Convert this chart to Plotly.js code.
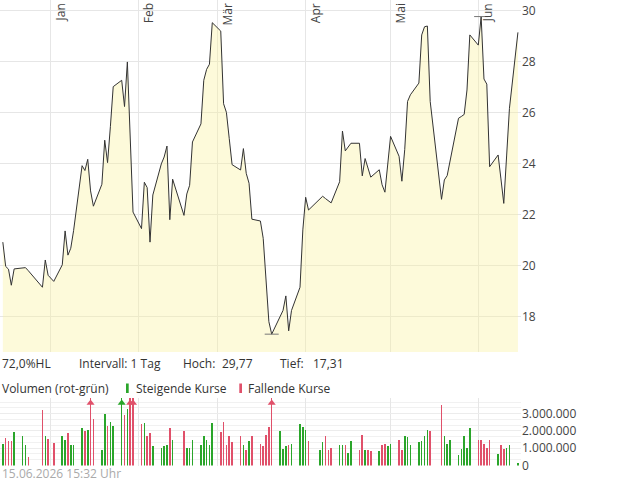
<!DOCTYPE html>
<html><head><meta charset="utf-8">
<script src="https://cdn.plot.ly/plotly-3.0.1.min.js"></script>
<style>html,body{margin:0;padding:0;background:#fff}#chart{width:620px;height:483px}</style>
</head><body><div id="chart"></div>
<script>
// ---- data ----
const tradingDays = [
'2025-12-15','2025-12-16','2025-12-17','2025-12-18','2025-12-19','2025-12-22','2025-12-23','2025-12-24','2025-12-29','2025-12-30','2025-12-31',
'2026-01-02','2026-01-05','2026-01-06','2026-01-07','2026-01-08','2026-01-09','2026-01-12','2026-01-13','2026-01-14','2026-01-15','2026-01-16',
'2026-01-19','2026-01-20','2026-01-21','2026-01-22','2026-01-23','2026-01-26','2026-01-27','2026-01-28','2026-01-29','2026-01-30',
'2026-02-02','2026-02-03','2026-02-04','2026-02-05','2026-02-06','2026-02-09','2026-02-10','2026-02-11','2026-02-12','2026-02-13',
'2026-02-17','2026-02-18','2026-02-19','2026-02-20','2026-02-23','2026-02-24','2026-02-25','2026-02-26','2026-02-27',
'2026-03-02','2026-03-03','2026-03-04','2026-03-05','2026-03-06','2026-03-09','2026-03-10','2026-03-11','2026-03-12','2026-03-13',
'2026-03-16','2026-03-17','2026-03-18','2026-03-19','2026-03-20','2026-03-23','2026-03-24','2026-03-25','2026-03-26','2026-03-27',
'2026-03-30','2026-03-31','2026-04-01','2026-04-02','2026-04-06','2026-04-07','2026-04-08','2026-04-09','2026-04-10',
'2026-04-13','2026-04-14','2026-04-15','2026-04-16','2026-04-17','2026-04-20','2026-04-21','2026-04-22','2026-04-23','2026-04-24',
'2026-04-27','2026-04-28','2026-04-29','2026-04-30','2026-05-01','2026-05-04','2026-05-05','2026-05-06','2026-05-07','2026-05-08',
'2026-05-11','2026-05-12','2026-05-13','2026-05-14','2026-05-15','2026-05-19','2026-05-20','2026-05-21','2026-05-22',
'2026-05-25','2026-05-26','2026-05-27','2026-05-28','2026-05-29','2026-06-01','2026-06-02','2026-06-03','2026-06-04','2026-06-05',
'2026-06-08','2026-06-09','2026-06-10','2026-06-11','2026-06-12','2026-06-15'];

const closePrices = [
20.92,19.97,19.86,19.23,19.87,19.89,19.92,19.80,19.15,20.22,19.62,
19.38,20.03,21.36,20.41,20.68,21.37,23.92,23.73,24.17,22.93,22.33,
23.19,24.92,24.04,25.45,27.02,27.27,26.24,27.99,25.00,22.10,
21.45,23.27,23.06,20.92,22.77,23.99,24.26,24.69,21.80,23.39,
21.97,22.81,23.15,24.85,25.56,27.27,27.70,27.90,29.53,
29.20,26.35,26.01,24.98,23.96,23.75,24.59,23.62,23.23,21.82,
21.75,21.07,19.40,17.80,17.31,18.00,18.24,18.81,17.44,18.24,
19.15,21.40,22.68,22.18,22.61,22.72,22.63,22.55,22.46,
23.29,25.28,24.50,24.65,24.80,24.80,23.52,24.20,23.85,23.47,
23.76,23.17,22.88,24.00,25.07,24.29,23.31,24.55,26.44,26.70,
27.16,29.05,29.37,29.40,26.44,22.60,23.36,23.53,24.10,
25.78,25.85,25.93,26.89,29.05,28.65,29.77,27.32,27.12,23.88,
24.34,23.40,22.44,24.30,26.17,29.15];

const volumes = [
1270000,1580000,1390000,1390000,1910000,1680000,1210000,520000,3180000,1680000,1560000,
1310000,1680000,1500000,1850000,1210000,1160000,2160000,1970000,2080000,4400000,2660000,
920000,2950000,2310000,2540000,2310000,4600000,2890000,3240000,4200000,4800000,
2370000,2430000,1680000,1850000,1100000,1040000,1100000,1160000,2140000,1450000,
1970000,1040000,1040000,1450000,1160000,1730000,1450000,1160000,2430000,
1910000,2540000,1210000,1730000,1330000,1730000,1160000,920000,1390000,1680000,
1270000,1130000,1790000,2200000,4500000,2020000,980000,1100000,1210000,1270000,
2370000,2200000,2080000,1390000,920000,1330000,1730000,870000,1040000,
1160000,1210000,1160000,750000,1390000,920000,1790000,920000,920000,810000,
810000,1210000,1270000,1100000,1270000,1450000,920000,1680000,1620000,1160000,
1330000,1390000,1680000,2080000,1970000,3470000,1680000,1270000,1450000,
580000,980000,1680000,1040000,2140000,1500000,1450000,1270000,1040000,1450000,
690000,1210000,980000,1040000,1160000,170000];

// 'u' = steigend (green), 'd' = fallend (red)
const volDirection = [
'u','d','d','d','u','u','u','d','d','u','d',
'd','u','u','d','u','u','u','d','u','d','d',
'u','u','d','u','u','u','d','u','d','d',
'd','u','d','d','u','u','u','u','d','u',
'd','u','u','u','u','u','u','u','u',
'd','d','d','d','d','d','u','d','u','d',
'd','d','d','d','d','u','u','u','d','u',
'u','u','u','d','u','u','d','d','d',
'u','u','d','u','u','d','d','u','d','d',
'u','d','d','u','u','d','d','u','u','u',
'u','u','u','u','d','d','u','u','u',
'u','u','u','u','u','d','d','d','d','d',
'u','d','d','u','u','u'];

const monthStarts = ['2026-01-01','2026-02-01','2026-03-01','2026-04-01','2026-05-01','2026-06-01'];
const monthLabels = ['Jan','Feb','Mär','Apr','Mai','Jun'];
const intervalText = 'Intervall: 1 Tag';
const volumeTitle = 'Volumen (rot-grün)';
const upLabel = 'Steigende Kurse';
const downLabel = 'Fallende Kurse';
const stampText = '15.06.2026 15:32 Uhr';

// ---- styling / layout ----
const W = 620, H = 483, PLOT_W = 521;
const px = x => x / PLOT_W;      // paper coords span the plot area width
const py = y => 1 - y / H;
const GREEN = '#2aa52a', RED = '#e0506a';
const priceRange = [16.61, 30.42];
const volMax = 3.9e6;

const hoch = Math.max(...closePrices);
const tief = Math.min(...closePrices);
const de = (v, d) => v.toFixed(d).replace('.', ',');
const hlPct = (hoch - tief) / tief * 100;

const volColors = volDirection.map(d => d === 'u' ? GREEN : RED);
const capX = [], capY = [], capC = [];
volumes.forEach((v, i) => { if (v > volMax) { capX.push(tradingDays[i]); capY.push(volMax * 0.925); capC.push(volColors[i]); } });

const iHi = closePrices.indexOf(hoch), iLo = closePrices.indexOf(tief);

const traces = [
  { type: 'scatter', mode: 'lines', x: tradingDays, y: closePrices, xaxis: 'x', yaxis: 'y',
    line: { color: '#333333', width: 1 }, fill: 'tozeroy', fillcolor: 'rgba(250,240,150,0.35)', hoverinfo: 'skip' },
  { type: 'scatter', mode: 'markers', x: [tradingDays[iHi], tradingDays[iLo]], y: [hoch, tief], xaxis: 'x', yaxis: 'y',
    marker: { symbol: 'line-ew-open', size: 10, color: '#777', line: { color: '#777', width: 1 } }, hoverinfo: 'skip', cliponaxis: false },
  { type: 'bar', x: tradingDays, y: volumes, xaxis: 'x2', yaxis: 'y2', width: 0.55 * 86400000,
    marker: { color: volColors, line: { width: 0 } }, hoverinfo: 'skip' },
  { type: 'scatter', mode: 'markers', x: capX, y: capY, xaxis: 'x2', yaxis: 'y2', cliponaxis: false,
    marker: { symbol: 'triangle-up', size: 7, color: capC, line: { width: 0 } }, hoverinfo: 'skip' }
];

const xRange = ['2025-12-14', '2026-06-16 02:00'];
const baseX = {
  type: 'date', range: xRange, showticklabels: false, ticks: '', dtick: 'M1', tick0: '2026-01-01',
  showgrid: true, gridcolor: '#e6e6e6', gridwidth: 1, zeroline: false, showline: false, fixedrange: true
};

const annotations = [];
monthStarts.forEach((d, i) => annotations.push({
  xref: 'x', yref: 'paper', x: d, y: 1, xanchor: 'left', yanchor: 'top', textangle: -90,
  text: monthLabels[i], showarrow: false, xshift: -1, yshift: -1, font: { size: 12, color: '#444' }
}));
const txt = (s, x, y, color, anchor) => annotations.push({
  xref: 'paper', yref: 'paper', x: px(x), y: py(y), xanchor: 'left', yanchor: anchor || 'middle',
  text: s, showarrow: false, borderpad: 0, font: { size: 12, color: color || '#333' }
});
txt(de(hlPct, 1) + '%HL', 1, 363);
txt(intervalText, 78, 363);
txt('Hoch:', 181.5, 363);
txt(de(hoch, 2), 221, 363);
txt('Tief:', 279, 363);
txt(de(tief, 2), 311.5, 363);
txt(volumeTitle, 1, 388);
txt(upLabel, 134.5, 388);
txt(downLabel, 247, 388);
txt(stampText, 1, 483, '#aaaaaa', 'bottom');

const shapes = [
  { type: 'rect', xref: 'paper', yref: 'paper', x0: px(126), x1: px(128.7), y0: py(393), y1: py(383.5), fillcolor: GREEN, line: { width: 0 } },
  { type: 'rect', xref: 'paper', yref: 'paper', x0: px(239.3), x1: px(242), y0: py(393), y1: py(383.5), fillcolor: RED, line: { width: 0 } }
];

const layout = {
  width: W, height: H, margin: { l: 0, r: W - PLOT_W, t: 0, b: 0, pad: 0 },
  paper_bgcolor: '#ffffff', plot_bgcolor: '#ffffff', separators: ',.', showlegend: false,
  font: { family: '"Open Sans", sans-serif', size: 12, color: '#444' },
  xaxis: Object.assign({}, baseX, { anchor: 'y', domain: [0, 1] }),
  xaxis2: Object.assign({}, baseX, { anchor: 'y2', domain: [0, 1], matches: 'x' }),
  yaxis: { domain: [py(352), 1], range: priceRange, side: 'right', dtick: 2, tick0: 0, ticks: '',
    showgrid: true, gridcolor: '#e6e6e6', zeroline: false, showline: false, fixedrange: true,
    tickfont: { size: 12, color: '#444' } },
  yaxis2: { domain: [py(465.5), py(398)], range: [0, volMax], side: 'right', dtick: 1e6, tick0: 0, ticks: '',
    tickformat: ',d', showgrid: true, gridcolor: '#ececec', zeroline: false, showline: false, fixedrange: true,
    minor: { dtick: 1e6 / 3, tick0: 0, showgrid: true, gridcolor: '#f1f1f1', ticks: '' },
    tickfont: { size: 12, color: '#444' } },
  bargap: 0, annotations: annotations, shapes: shapes
};

Plotly.newPlot('chart', traces, layout, { staticPlot: true, displayModeBar: false });
</script></body></html>
